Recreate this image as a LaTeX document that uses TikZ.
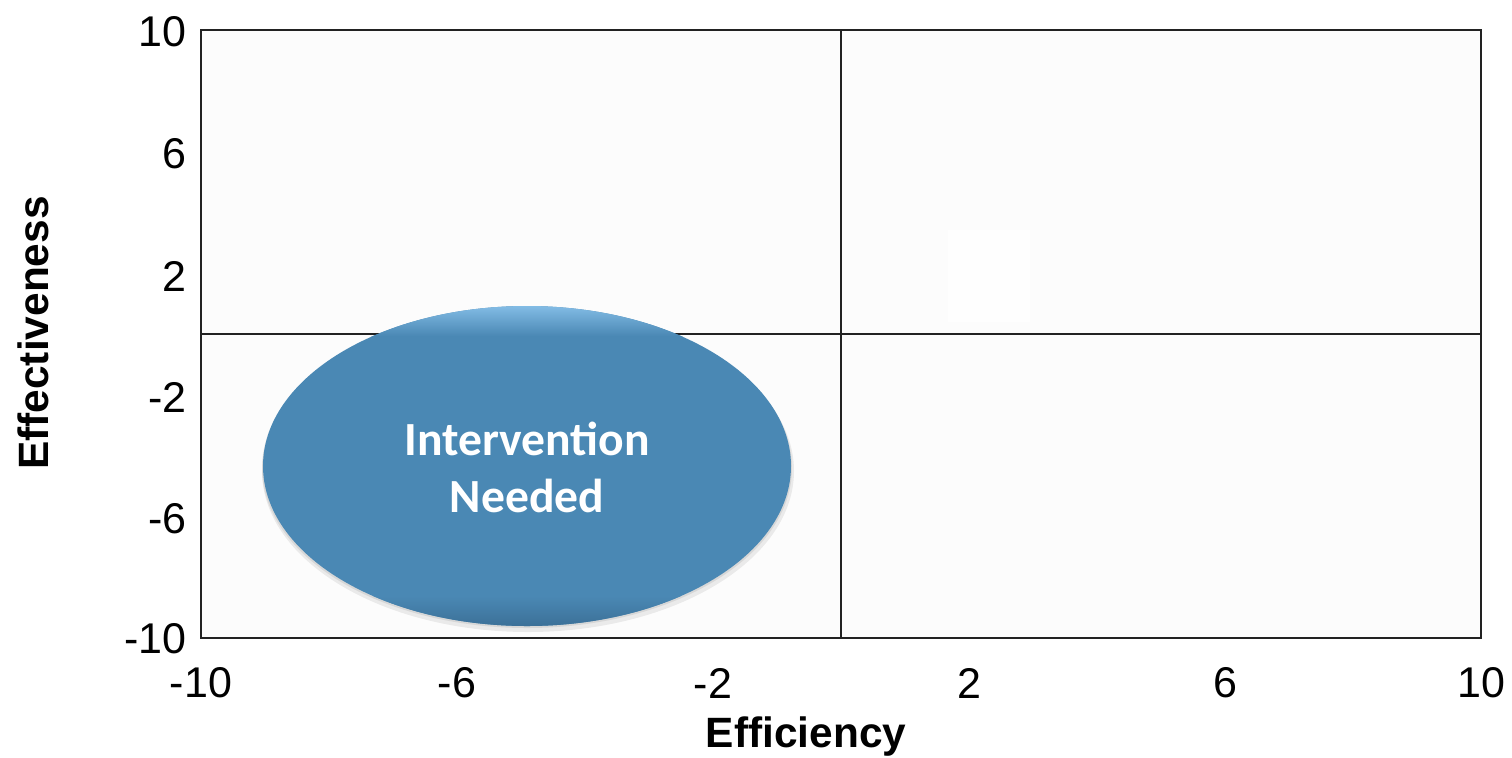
\documentclass[tikz,border=0pt]{standalone}
\usepackage{fontspec}
\setmainfont{Liberation Sans}
\newfontfamily\calib{Carlito}
\usetikzlibrary{shapes.geometric}
\definecolor{plotbg}{HTML}{FCFCFC}
\definecolor{faintsq}{HTML}{FEFEFE}
\definecolor{ellfill}{HTML}{4A88B4}
\definecolor{ellrim}{HTML}{86BFE8}
\definecolor{elldark}{HTML}{3B6F96}
\definecolor{axisline}{HTML}{222222}
\tikzset{
  tick/.style={font=\fontsize{21.5}{24}\selectfont, inner sep=0pt},
  axlabel/.style={font=\fontsize{21.2}{24}\selectfont\bfseries, inner sep=0pt},
  gridline/.style={draw=axisline, line width=0.9pt},
  blob/.style={ellipse, minimum width=264pt, minimum height=160pt, inner sep=0pt,
    text=white, align=center, font=\calib\fontsize{23.8}{28.5}\selectfont\bfseries}
}
\begin{document}
\begin{tikzpicture}[x=0.5pt,y=-0.5pt]
\useasboundingbox (0,0) rectangle (1512,757);
% plot area
\fill[plotbg] (201,30) rectangle (1481,638);
\fill[faintsq] (948,230) rectangle (1030,322);
\coordinate (tl) at (201,30);
\coordinate (br) at (1481,638);
\coordinate (vt) at (841,30);
\coordinate (vb) at (841,638);
\coordinate (hl) at (201,334);
\coordinate (hr) at (1481,334);
\draw[gridline] (vt) -- (vb);
\draw[gridline] (hl) -- (hr);
\draw[gridline] (tl) rectangle (br);
% ellipse with soft shadow
\fill[black, opacity=0.07] (528,471) ellipse (266 and 161);
\fill[black, opacity=0.08] (527,468) ellipse (265 and 160);
\node[blob, fill=ellfill] (rim) at (527,466) {};
\begin{scope}
  \clip (527,466) ellipse (264 and 160);
  \shade[top color=ellrim, bottom color=ellfill] (250,304) rectangle (800,336);
  \shade[top color=ellfill, bottom color=elldark] (250,596) rectangle (800,628);
\end{scope}
\node[blob] (iv) at (527,467) {Intervention\\Needed};
% y ticks
\node[tick, anchor=east] (y10) at (187,32) {10};
\node[tick, anchor=east] (y6) at (187,154) {6};
\node[tick, anchor=east] (y2) at (187,276) {2};
\node[tick, anchor=east] (ym2) at (187,397) {-2};
\node[tick, anchor=east] (ym6) at (187,519) {-6};
\node[tick, anchor=east] (ym10) at (187,639) {-10};
% x ticks
\node[tick] (xm10) at (201,683) {-10};
\node[tick] (xm6) at (457,683) {-6};
\node[tick] (xm2) at (713,683) {-2};
\node[tick] (x2) at (969,683) {2};
\node[tick] (x6) at (1225,683) {6};
\node[tick] (x10) at (1481,683) {10};
% axis labels
\node[axlabel] (xlab) at (806,737) {Efficiency};
\node[axlabel, rotate=90] (ylab) at (33,333) {Effectiveness};
\end{tikzpicture}
\end{document}
